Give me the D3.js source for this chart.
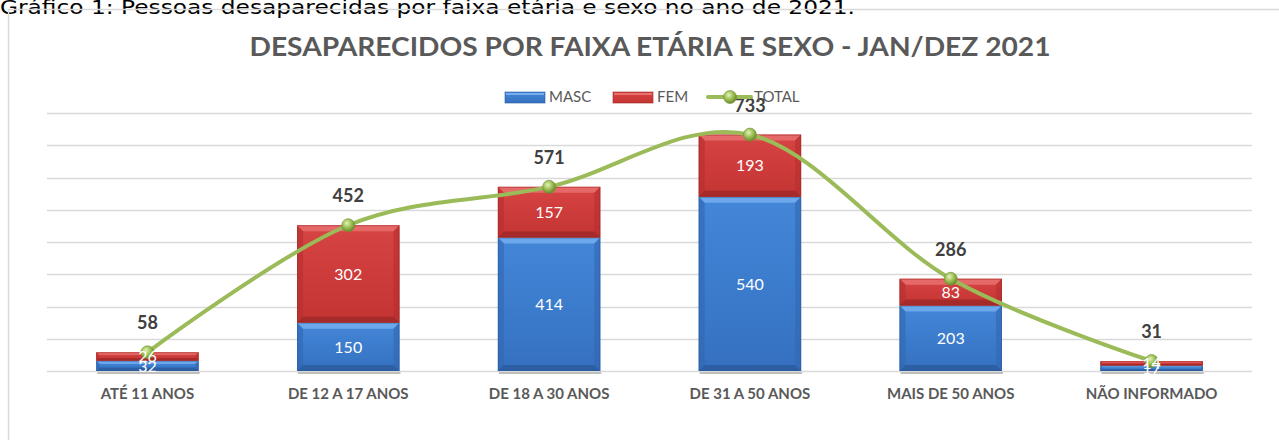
<!DOCTYPE html>
<html>
<head>
<meta charset="utf-8">
<script src="https://cdn.jsdelivr.net/npm/d3@7"></script>
<style>
  body { margin: 0; background: #fff; }
  svg { display: block; }
</style>
</head>
<body>
<div id="chart"></div>
<script>
// Data
const categories = ['ATÉ 11 ANOS', 'DE 12 A 17 ANOS', 'DE 18 A 30 ANOS', 'DE 31 A 50 ANOS', 'MAIS DE 50 ANOS', 'NÃO INFORMADO'];
const masc = [32, 150, 414, 540, 203, 17];
const fem = [26, 302, 157, 193, 83, 14];
const total = [58, 452, 571, 733, 286, 31];
const yMax = 800;

const width = 1279, height = 440;
const font = 'Lato, "Open Sans", sans-serif';

const svg = d3.select('#chart').append('svg')
    .attr('width', width)
    .attr('height', height);

const defs = svg.append('defs');

// gradients for the bevelled bars
function barGradient(id, top, mid, bottom) {
    const g = defs.append('linearGradient').attr('id', id)
        .attr('x1', 0).attr('y1', 0).attr('x2', 0).attr('y2', 1);
    g.append('stop').attr('offset', '0%').attr('stop-color', top);
    g.append('stop').attr('offset', '50%').attr('stop-color', mid);
    g.append('stop').attr('offset', '100%').attr('stop-color', bottom);
}
barGradient('gMasc', '#4486d8', '#3c7ccd', '#3570bf');
barGradient('gFem', '#d64544', '#cd3c3b', '#c33433');

const ball = defs.append('radialGradient').attr('id', 'gBall')
    .attr('cx', '40%').attr('cy', '35%').attr('r', '65%');
ball.append('stop').attr('offset', '0%').attr('stop-color', '#e4f2c2');
ball.append('stop').attr('offset', '45%').attr('stop-color', '#a6c85e');
ball.append('stop').attr('offset', '100%').attr('stop-color', '#6a8a2a');

// caption above the chart box
svg.append('text')
    .attr('x', 0)
    .attr('y', 14)
    .attr('textLength', 855)
    .attr('lengthAdjust', 'spacingAndGlyphs')
    .style('font-family', '"DejaVu Sans", Verdana, sans-serif')
    .style('font-size', '19px')
    .style('fill', '#000')
    .text('Gráfico 1: Pessoas desaparecidas por faixa etária e sexo no ano de 2021.');

// chart box
svg.append('rect')
    .attr('x', 8.5).attr('y', 9.5)
    .attr('width', 1400).attr('height', 600)
    .style('fill', 'none')
    .style('stroke', '#d9d9d9')
    .style('stroke-width', 1.5);

// Title
svg.append('text')
    .attr('x', 650)
    .attr('y', 56)
    .attr('text-anchor', 'middle')
    .attr('textLength', 801)
    .attr('lengthAdjust', 'spacingAndGlyphs')
    .style('font-family', font)
    .style('font-weight', 700)
    .style('font-size', '27px')
    .style('fill', '#595959')
    .text('DESAPARECIDOS POR FAIXA ETÁRIA E SEXO - JAN/DEZ 2021');

// Scales
const x = d3.scaleBand()
    .domain(categories)
    .range([47, 1252])
    .paddingInner(0.49)
    .paddingOuter(0.245);

const y = d3.scaleLinear()
    .domain([0, yMax])
    .range([371, 113]);

// Gridlines
svg.append('g')
    .selectAll('line')
    .data(y.ticks(8))
    .join('line')
    .attr('x1', 47).attr('x2', 1252)
    .attr('y1', d => Math.round(y(d)) + 0.5)
    .attr('y2', d => Math.round(y(d)) + 0.5)
    .style('stroke', '#d9d9d9')
    .style('stroke-width', 1.5);

// X axis (category labels only)
const xAxis = d3.axisBottom(x).tickSize(0).tickPadding(0);
const gx = svg.append('g')
    .attr('transform', 'translate(0,' + y(0) + ')')
    .call(xAxis);
gx.select('.domain').remove();
gx.selectAll('text')
    .attr('dy', null)
    .attr('y', 28)
    .style('font-family', font)
    .style('font-weight', 700)
    .style('font-size', '15px')
    .style('fill', '#595959');

// Stacked data
const rows = categories.map((c, i) => ({ cat: c, MASC: masc[i], FEM: fem[i] }));
const stack = d3.stack().keys(['MASC', 'FEM'])(rows);

const colors = {
    MASC: { fill: 'url(#gMasc)', light: '#74aef0', dark: '#2a5a9c', side: '#3268b0' },
    FEM: { fill: 'url(#gFem)', light: '#e8706f', dark: '#9e2827', side: '#b52f2e' }
};

const bars = svg.append('g');

stack.forEach(layer => {
    const c = colors[layer.key];
    layer.forEach(d => {
        const bx = x(d.data.cat), bw = x.bandwidth();
        const by = y(d[1]), bh = y(d[0]) - y(d[1]);
        const b = Math.min(6, bh / 3);
        const seg = bars.append('g');
        seg.append('rect')
            .attr('x', bx).attr('y', by)
            .attr('width', bw).attr('height', bh)
            .style('fill', c.fill);
        // bevel faces
        seg.append('polygon')
            .attr('points', [[bx, by], [bx + bw, by], [bx + bw - b, by + b], [bx + b, by + b]].join(' '))
            .style('fill', c.light).style('opacity', 0.85);
        seg.append('polygon')
            .attr('points', [[bx, by + bh], [bx + bw, by + bh], [bx + bw - b, by + bh - b], [bx + b, by + bh - b]].join(' '))
            .style('fill', c.dark).style('opacity', 0.8);
        seg.append('polygon')
            .attr('points', [[bx, by], [bx + b, by + b], [bx + b, by + bh - b], [bx, by + bh]].join(' '))
            .style('fill', c.side).style('opacity', 0.6);
        seg.append('polygon')
            .attr('points', [[bx + bw, by], [bx + bw - b, by + b], [bx + bw - b, by + bh - b], [bx + bw, by + bh]].join(' '))
            .style('fill', c.side).style('opacity', 0.6);
        seg.append('rect')
            .attr('x', bx + 0.5).attr('y', by + 0.5)
            .attr('width', bw - 1).attr('height', Math.max(0, bh - 1))
            .style('fill', 'none')
            .style('stroke', c.dark)
            .style('stroke-opacity', 0.5);
    });
});

// bar shadow under each column
bars.append('g')
    .selectAll('rect')
    .data(categories)
    .join('rect')
    .attr('x', d => x(d) + 1)
    .attr('y', y(0) + 1)
    .attr('width', x.bandwidth())
    .attr('height', 2)
    .style('fill', '#bfbfbf');

// Total line
const pts = categories.map((c, i) => [x(c) + x.bandwidth() / 2, y(total[i])]);

svg.append('path')
    .datum(pts)
    .attr('d', d3.line().curve(d3.curveCardinal))
    .style('fill', 'none')
    .style('stroke', '#9bbb59')
    .style('stroke-width', 4)
    .style('stroke-linecap', 'round');

svg.append('g')
    .selectAll('circle')
    .data(pts)
    .join('circle')
    .attr('cx', d => d[0])
    .attr('cy', d => d[1])
    .attr('r', 6.5)
    .style('fill', 'url(#gBall)')
    .style('stroke', '#6f8f30')
    .style('stroke-width', 0.6);

// Segment labels
stack.forEach(layer => {
    svg.append('g')
        .selectAll('text')
        .data(layer)
        .join('text')
        .attr('x', d => x(d.data.cat) + x.bandwidth() / 2)
        .attr('y', d => (y(d[0]) + y(d[1])) / 2)
        .attr('dy', '0.36em')
        .attr('text-anchor', 'middle')
        .style('font-family', font)
        .style('font-size', '16px')
        .style('fill', '#fff')
        .text(d => d.data[layer.key]);
});

// Total labels
svg.append('g')
    .selectAll('text')
    .data(total)
    .join('text')
    .attr('x', (d, i) => x(categories[i]) + x.bandwidth() / 2)
    .attr('y', d => y(d) - 23)
    .attr('text-anchor', 'middle')
    .style('font-family', font)
    .style('font-weight', 700)
    .style('font-size', '18px')
    .style('fill', '#404040')
    .text(d => d);

// Legend
const legend = svg.append('g');
const legendItems = [
    { key: 'MASC', x: 505, fill: 'url(#gMasc)', light: '#74aef0', dark: '#2a5a9c' },
    { key: 'FEM', x: 613, fill: 'url(#gFem)', light: '#e8706f', dark: '#9e2827' }
];
legendItems.forEach(it => {
    legend.append('rect')
        .attr('x', it.x).attr('y', 92)
        .attr('width', 40).attr('height', 11)
        .style('fill', it.fill)
        .style('stroke', it.dark).style('stroke-opacity', 0.6);
    legend.append('rect')
        .attr('x', it.x + 1).attr('y', 93)
        .attr('width', 38).attr('height', 2)
        .style('fill', it.light);
    legend.append('text')
        .attr('x', it.x + 44).attr('y', 97)
        .attr('dy', '0.36em')
        .style('font-family', font)
        .style('font-size', '15px')
        .style('fill', '#595959')
        .text(it.key);
});
legend.append('line')
    .attr('x1', 708).attr('x2', 751)
    .attr('y1', 97).attr('y2', 97)
    .style('stroke', '#9bbb59')
    .style('stroke-width', 4)
    .style('stroke-linecap', 'round');
legend.append('circle')
    .attr('cx', 730).attr('cy', 97).attr('r', 6.5)
    .style('fill', 'url(#gBall)')
    .style('stroke', '#6f8f30').style('stroke-width', 0.6);
legend.append('text')
    .attr('x', 754).attr('y', 97)
    .attr('dy', '0.36em')
    .style('font-family', font)
    .style('font-size', '15px')
    .style('fill', '#595959')
    .text('TOTAL');
</script>
</body>
</html>
